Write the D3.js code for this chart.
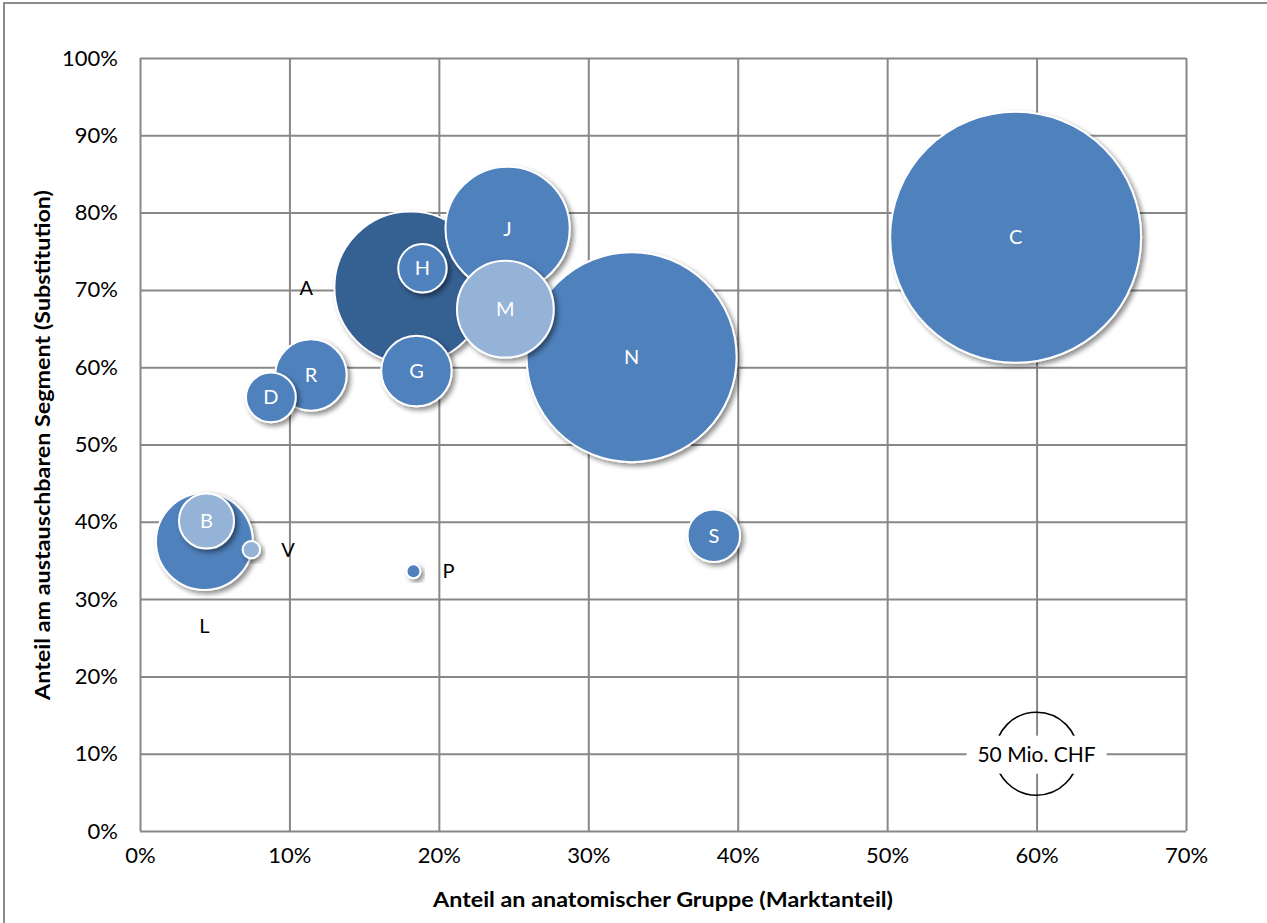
<!DOCTYPE html>
<html>
<head>
<meta charset="utf-8">
<script src="https://cdn.jsdelivr.net/npm/d3@7"></script>
<style>
  body { margin: 0; background: #fff; }
  svg { display: block; font-family: Lato, "Open Sans", sans-serif; }
</style>
</head>
<body>
<svg id="chart" width="1267" height="923"></svg>
<script>
// data
const names = ["C", "A", "J", "N", "M", "H", "G", "R", "D", "L", "B", "V", "P", "S"];
const marketShare = [0.586, 0.181, 0.246, 0.329, 0.2445, 0.189, 0.185, 0.1144, 0.0876, 0.0431, 0.0445, 0.0745, 0.183, 0.384];
const substitution = [0.768, 0.703, 0.779, 0.613, 0.675, 0.728, 0.595, 0.59, 0.561, 0.3745, 0.401, 0.364, 0.336, 0.382];
const salesMio = [457, 168, 112, 320, 68, 17, 36, 37, 18, 68, 22, 2.2, 1.4, 20];
const shade = ["mid", "dark", "mid", "mid", "light", "mid", "mid", "mid", "mid", "mid", "light", "light", "mid", "mid"];
const labelPos = ["center", "left", "center", "center", "center", "center", "center", "center", "center", "below", "center", "right", "right", "center"];

const xTicks = [0, 0.1, 0.2, 0.3, 0.4, 0.5, 0.6, 0.7];
const yTicks = [0, 0.1, 0.2, 0.3, 0.4, 0.5, 0.6, 0.7, 0.8, 0.9, 1];

const refValue = 50, refLabel = "50 Mio. CHF", refX = 0.6, refY = 0.1;

const colors = { mid: "#4f81bd", dark: "#366092", light: "#95b3d7" };

const svg = d3.select("#chart");

// outer chart frame (cut off at right/bottom)
svg.append("rect")
  .attr("x", 4).attr("y", 3)
  .attr("width", 1300).attr("height", 1000)
  .attr("fill", "none").attr("stroke", "#8c8c8c").attr("stroke-width", 2);

const x = d3.scaleLinear().domain([0, 0.7]).range([140, 1186]);
const y = d3.scaleLinear().domain([0, 1]).range([831, 58]);
const r = d3.scaleSqrt().domain([0, refValue]).range([0, 41.5]);

const defs = svg.append("defs");
const shadow = defs.append("filter").attr("id", "shadow")
  .attr("x", "-20%").attr("y", "-20%").attr("width", "150%").attr("height", "150%");
shadow.append("feDropShadow")
  .attr("dx", 3).attr("dy", 3).attr("stdDeviation", 2.5)
  .attr("flood-color", "#000").attr("flood-opacity", 0.45);

const gridColor = "#888";

// gridlines + axes
const yAxis = svg.append("g")
  .attr("transform", `translate(${x(0)},0)`)
  .call(d3.axisLeft(y).tickValues(yTicks).tickFormat(d3.format(".0%"))
    .tickSize(-(x(0.7) - x(0))).tickPadding(22));
yAxis.select(".domain").remove();
yAxis.selectAll("line").attr("stroke", gridColor).attr("stroke-width", 2);
yAxis.selectAll("text").attr("font-size", 22).attr("fill", "#000")
  .attr("font-family", "Lato, sans-serif");

const xAxis = svg.append("g")
  .attr("transform", `translate(0,${y(0)})`)
  .call(d3.axisBottom(x).tickValues(xTicks).tickFormat(d3.format(".0%"))
    .tickSize(-(y(0) - y(1))).tickPadding(16));
xAxis.select(".domain").remove();
xAxis.selectAll("line").attr("stroke", gridColor).attr("stroke-width", 2);
xAxis.selectAll("text").attr("font-size", 22).attr("fill", "#000")
  .attr("font-family", "Lato, sans-serif");

// axis titles
svg.append("text")
  .attr("x", 663).attr("y", 907)
  .attr("text-anchor", "middle")
  .attr("font-size", 20).attr("font-weight", "bold")
  .attr("textLength", 460).attr("lengthAdjust", "spacingAndGlyphs")
  .text("Anteil an anatomischer Gruppe (Marktanteil)");

svg.append("text")
  .attr("transform", "translate(50,445) rotate(-90)")
  .attr("text-anchor", "middle")
  .attr("font-size", 20).attr("font-weight", "bold")
  .attr("textLength", 510).attr("lengthAdjust", "spacingAndGlyphs")
  .text("Anteil am austauschbaren Segment (Substitution)");

// bubbles
const bubbles = names.map((n, i) => ({
  name: n, mx: marketShare[i], sy: substitution[i], size: salesMio[i],
  shade: shade[i], pos: labelPos[i]
}));

const g = svg.append("g");
g.selectAll("circle")
  .data(bubbles)
  .join("circle")
  .attr("cx", d => x(d.mx))
  .attr("cy", d => y(d.sy))
  .attr("r", d => r(d.size))
  .attr("fill", d => colors[d.shade])
  .attr("stroke", "#fff")
  .attr("stroke-width", 2)
  .attr("filter", "url(#shadow)");

g.selectAll("text")
  .data(bubbles)
  .join("text")
  .attr("x", d => {
    if (d.pos === "left") return x(d.mx) - r(d.size) - 28;
    if (d.pos === "right") return x(d.mx) + r(d.size) + 28;
    return x(d.mx);
  })
  .attr("y", d => d.pos === "below" ? y(d.sy) + r(d.size) + 43 : y(d.sy) + 7)
  .attr("text-anchor", "middle")
  .attr("font-size", 20)
  .attr("fill", d => d.pos === "center" ? "#fff" : "#000")
  .text(d => d.name);

// size reference bubble
const legend = svg.append("g");
legend.append("circle")
  .attr("cx", x(refX)).attr("cy", y(refY)).attr("r", r(refValue))
  .attr("fill", "none").attr("stroke", "#000").attr("stroke-width", 1.6);
legend.append("rect")
  .attr("x", x(refX) - 70).attr("y", y(refY) - 18)
  .attr("width", 140).attr("height", 38)
  .attr("fill", "#fff");
legend.append("text")
  .attr("x", x(refX)).attr("y", y(refY) + 8)
  .attr("text-anchor", "middle")
  .attr("font-size", 21)
  .text(refLabel);
</script>
</body>
</html>
